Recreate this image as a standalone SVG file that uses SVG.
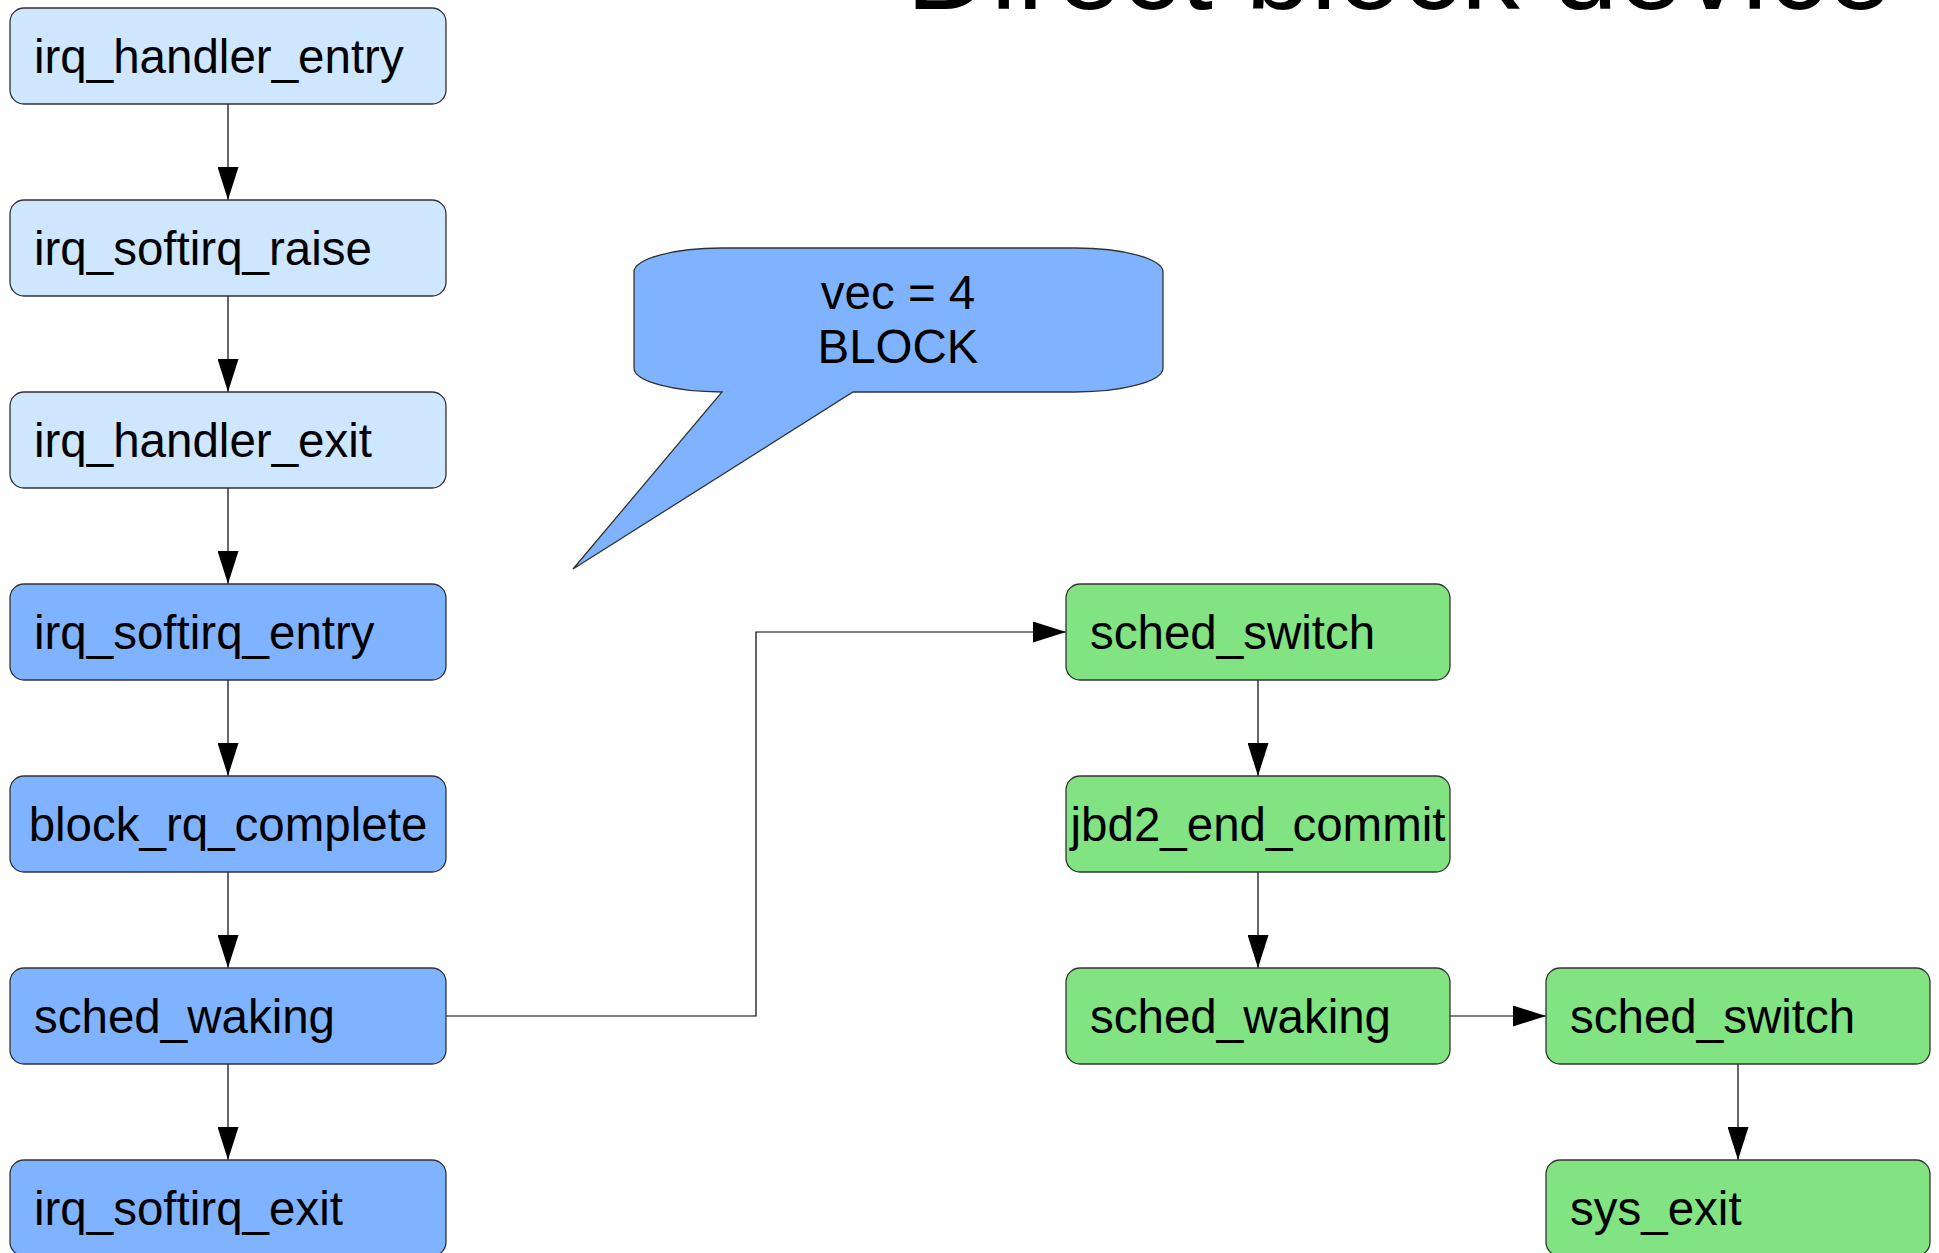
<svg xmlns="http://www.w3.org/2000/svg" width="1939" height="1253" viewBox="0 0 1939 1253">
<defs>
<style>
.box{stroke:#333;stroke-width:1.3}
.lb{fill:#cfe6ff}
.mb{fill:#80b3ff}
.gr{fill:#81e381}
.t{font-family:"Liberation Sans",Arial,sans-serif;font-size:47.5px;fill:#000}
.c{stroke:#000;stroke-width:1.2;fill:none;marker-end:url(#ah)}
</style>
<marker id="ah" viewBox="0 0 33 21" refX="33" refY="10.5" markerWidth="33" markerHeight="21" markerUnits="userSpaceOnUse" orient="auto">
<path d="M0,0 L33,10.5 L0,21 Z" fill="#000"/>
</marker>
</defs>
<rect width="1939" height="1253" fill="#fff"/>
<text x="906" y="9" font-family="Liberation Sans, Arial, sans-serif" font-size="117.5" fill="#000">Direct block device</text>

<g id="connectors">
<path class="c" d="M228,104 V200"/>
<path class="c" d="M228,296 V392"/>
<path class="c" d="M228,488 V584"/>
<path class="c" d="M228,680 V776"/>
<path class="c" d="M228,872 V968"/>
<path class="c" d="M228,1064 V1160"/>
<path class="c" d="M446,1016 H756 V632 H1066"/>
<path class="c" d="M1258,680 V776"/>
<path class="c" d="M1258,872 V968"/>
<path class="c" d="M1450,1016 H1546"/>
<path class="c" d="M1738,1064 V1160"/>
</g>

<g id="n1"><rect class="box lb" x="10" y="8" width="436" height="96" rx="14"/><text class="t" x="34" y="73">irq_handler_entry</text></g>
<g id="n2"><rect class="box lb" x="10" y="200" width="436" height="96" rx="14"/><text class="t" x="34" y="265">irq_softirq_raise</text></g>
<g id="n3"><rect class="box lb" x="10" y="392" width="436" height="96" rx="14"/><text class="t" x="34" y="457">irq_handler_exit</text></g>
<g id="n4"><rect class="box mb" x="10" y="584" width="436" height="96" rx="14"/><text class="t" x="34" y="649">irq_softirq_entry</text></g>
<g id="n5"><rect class="box mb" x="10" y="776" width="436" height="96" rx="14"/><text class="t" x="228" y="841" text-anchor="middle">block_rq_complete</text></g>
<g id="n6"><rect class="box mb" x="10" y="968" width="436" height="96" rx="14"/><text class="t" x="34" y="1033">sched_waking</text></g>
<g id="n7"><rect class="box mb" x="10" y="1160" width="436" height="96" rx="14"/><text class="t" x="34" y="1225">irq_softirq_exit</text></g>

<g id="g1"><rect class="box gr" x="1066" y="584" width="384" height="96" rx="14"/><text class="t" x="1090" y="649">sched_switch</text></g>
<g id="g2"><rect class="box gr" x="1066" y="776" width="384" height="96" rx="14"/><text class="t" x="1258" y="841" text-anchor="middle">jbd2_end_commit</text></g>
<g id="g3"><rect class="box gr" x="1066" y="968" width="384" height="96" rx="14"/><text class="t" x="1090" y="1033">sched_waking</text></g>
<g id="g4"><rect class="box gr" x="1546" y="968" width="384" height="96" rx="14"/><text class="t" x="1570" y="1033">sched_switch</text></g>
<g id="g5"><rect class="box gr" x="1546" y="1160" width="384" height="96" rx="14"/><text class="t" x="1570" y="1225">sys_exit</text></g>

<g id="callout">
<path d="M722,248 H1075 A88,24 0 0 1 1163,272 V368 A88,24 0 0 1 1075,392 H853 L573,569 L722,392 A88,24 0 0 1 634,368 V272 A88,24 0 0 1 722,248 Z" fill="#80b3ff" stroke="#333" stroke-width="1.3"/>
<text class="t" x="898" y="309" text-anchor="middle">vec = 4</text>
<text class="t" x="898" y="363" text-anchor="middle">BLOCK</text>
</g>
</svg>
